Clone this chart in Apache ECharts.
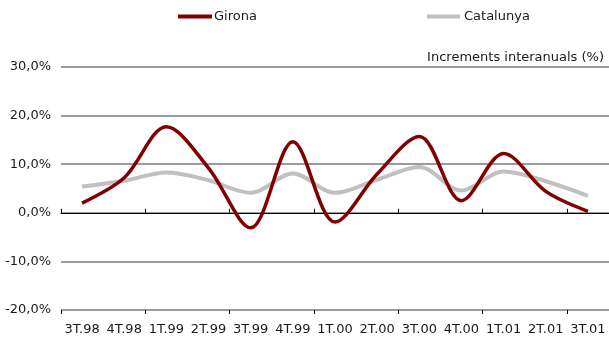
<!DOCTYPE html>
<html><head><meta charset="utf-8">
<script src="https://cdn.jsdelivr.net/npm/echarts@6/dist/echarts.min.js"></script>
<style>html,body{margin:0;padding:0;background:#fff}#c{width:609px;height:340px}</style>
</head><body><div id="c"></div>
<script>
const categories = ['3T.98','4T.98','1T.99','2T.99','3T.99','4T.99','1T.00','2T.00','3T.00','4T.00','1T.01','2T.01','3T.01'];
const girona = [2.0, 7.2, 17.7, 9.2, -3.1, 14.6, -1.9, 8.0, 15.7, 2.5, 12.2, 4.4, 0.3];
const catalunya = [5.4, 6.6, 8.3, 6.7, 4.1, 8.1, 4.1, 6.8, 9.4, 4.6, 8.5, 6.5, 3.5];
const yTicks = [-20, -10, 0, 10, 20, 30];

const FONT = 'DejaVu Sans';
const TXT = '#1a1a1a';
const chart = echarts.init(document.getElementById('c'), null, {renderer: 'canvas'});
const fmt = v => v.toFixed(1).replace('.', ',') + '%';
chart.setOption({
  animation: false,
  textStyle: {fontFamily: FONT},
  title: {
    text: 'Increments interanuals (%)', right: 5, top: 51, padding: 0,
    textStyle: {fontSize: 13, fontWeight: 'normal', color: TXT, fontFamily: FONT}
  },
  legend: [
    {data: ['Girona'], left: 178, top: 10, padding: 0, icon: 'rect', itemWidth: 34, itemHeight: 4,
     textStyle: {fontSize: 13, color: TXT, fontFamily: FONT, padding: [0,0,0,-3]}},
    {data: ['Catalunya'], left: 427, top: 10, padding: 0, icon: 'rect', itemWidth: 33, itemHeight: 4,
     textStyle: {fontSize: 13, color: TXT, fontFamily: FONT, padding: [0,0,0,-1]}}
  ],
  grid: {left: 61, top: 67, width: 550, bottom: 30, containLabel: false},
  xAxis: [
    {type: 'category', data: categories, position: 'bottom', boundaryGap: true,
     axisLine: {show: false, onZero: false}, axisTick: {show: false},
     axisLabel: {fontSize: 13, color: TXT, margin: 13, interval: 0, fontFamily: FONT}},
    {type: 'category', data: categories, position: 'bottom', boundaryGap: true,
     axisLine: {show: true, onZero: true, lineStyle: {color: '#000', width: 1.2}},
     axisTick: {show: true, inside: true, length: 4, lineStyle: {color: '#000'}},
     axisLabel: {show: false}},
    {type: 'category', data: categories, position: 'bottom', boundaryGap: true,
     axisLine: {show: false, onZero: true},
     axisTick: {show: true, inside: false, length: 4, lineStyle: {color: '#000'}},
     axisLabel: {show: false}}
  ],
  yAxis: {
    type: 'value', min: yTicks[0], max: yTicks[yTicks.length - 1], interval: 10,
    axisLine: {show: false}, axisTick: {show: false},
    splitLine: {show: true, lineStyle: {color: '#7a7a7a', width: 1.5}},
    axisLabel: {formatter: fmt, fontSize: 13, color: TXT, margin: 10, fontFamily: FONT}
  },
  series: [
    {name: 'Girona', type: 'line', data: girona, smooth: 0.33, symbol: 'none',
     lineStyle: {color: '#800000', width: 3.5}, itemStyle: {color: '#800000'}, z: 3},
    {name: 'Catalunya', type: 'line', data: catalunya, smooth: 0.33, symbol: 'none',
     lineStyle: {color: '#C0C0C0', width: 4}, itemStyle: {color: '#C0C0C0'}, z: 2}
  ]
});
</script></body></html>
